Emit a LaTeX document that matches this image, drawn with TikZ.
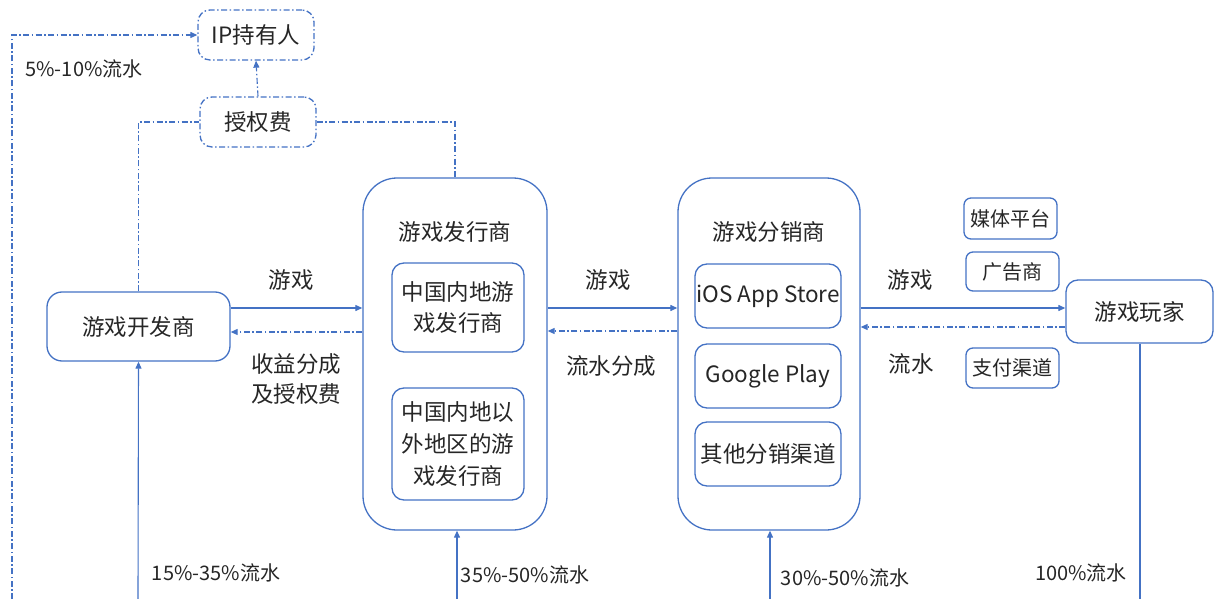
\documentclass[tikz,border=0pt]{standalone}
\usepackage{fontspec}
\setmainfont{Noto Sans CJK SC}
\usetikzlibrary{arrows.meta}
\definecolor{lc}{HTML}{4472C4}
\definecolor{tc}{HTML}{262626}
\begin{document}
\begin{tikzpicture}[x=1pt,y=-1pt,
  every node/.style={text=tc,font=\fontsize{22.5}{30.5}\selectfont},
  box/.style={draw=lc,line width=1.3pt,rounded corners=12pt,inner sep=0pt},
  dbox/.style={box,dash pattern=on 6pt off 2.5pt on 1.5pt off 2.5pt},
  bigbox/.style={draw=lc,line width=1.3pt,rounded corners=34pt,inner sep=0pt},
  sol/.style={draw=lc,line width=1.1pt,-{Triangle[length=7pt,width=6pt]}},
  dd/.style={draw=lc,line width=1.1pt,dash pattern=on 6pt off 2.5pt on 1.5pt off 2.5pt},
  lab/.style={align=center,inner sep=0pt},
  small/.style={font=\fontsize{20}{24}\selectfont}
]
\useasboundingbox (0,0) rectangle (1216,599);
% nodes
\node[dbox,minimum width=116pt,minimum height=50pt] (ip) at (256,35) {IP持有人};
\node[dbox,minimum width=116pt,minimum height=50pt] (fee) at (258,122) {授权费};
\node[box,rounded corners=15pt,minimum width=183pt,minimum height=69pt] (dev) at (138.5,326.5) {游戏开发商};
\node[bigbox,minimum width=184pt,minimum height=352pt] (pub) at (455,354) {};
\node[lab] (pubt) at (455,232) {游戏发行商};
\node[box,minimum width=132pt,minimum height=89pt,align=center] (pub1) at (458,307.5) {中国内地游\\戏发行商};
\node[box,minimum width=132pt,minimum height=112pt,align=center,font=\fontsize{22.5}{32}\selectfont] (pub2) at (458,444) {中国内地以\\外地区的游\\戏发行商};
\node[bigbox,minimum width=182pt,minimum height=352pt] (dis) at (769,354) {};
\node[lab] (dist) at (769,232) {游戏分销商};
\node[box,minimum width=146pt,minimum height=64pt] (ios) at (768,296) {iOS App Store};
\node[box,minimum width=146pt,minimum height=64pt] (gp) at (768,376) {Google Play};
\node[box,minimum width=146pt,minimum height=64pt] (oth) at (768,454) {其他分销渠道};
\node[box,rounded corners=7pt,minimum width=93pt,minimum height=41pt,small] (media) at (1010.5,218.5) {媒体平台};
\node[box,rounded corners=7pt,minimum width=93pt,minimum height=39pt,small] (ad) at (1012.5,271.5) {广告商};
\node[box,rounded corners=7pt,minimum width=93pt,minimum height=40pt,small] (pay) at (1012.5,368) {支付渠道};
\node[box,rounded corners=12pt,minimum width=147pt,minimum height=63pt] (player) at (1139.5,311.5) {游戏玩家};
% coordinates
\coordinate (bl) at (12,599);
\coordinate (b1) at (138,599);
\coordinate (b2) at (457,599);
\coordinate (b3) at (770,599);
\coordinate (b4) at (1140,599);
% connectors
\draw[dd,-{Triangle[length=7pt,width=6pt]}] (bl) |- (ip.west);
\draw[dd] (dev.north) |- (fee.west);
\draw[dd] (fee.east) -| (pub.north);
\draw[dd,-{Triangle[length=7pt,width=6pt]}] (fee.north) -- (ip.south);
\draw[sol] (dev.east |- 0,308) -- (pub.west |- 0,308);
\draw[dd,-{Triangle[length=7pt,width=6pt]}] (pub.west |- 0,332) -- (dev.east |- 0,332);
\draw[sol] (pub.east |- 0,308) -- (dis.west |- 0,308);
\draw[dd,-{Triangle[length=7pt,width=6pt]}] (dis.west |- 0,331) -- (pub.east |- 0,331);
\draw[sol] (dis.east |- 0,308) -- (player.west |- 0,308);
\draw[dd,-{Triangle[length=7pt,width=6pt]}] (player.west |- 0,327) -- (dis.east |- 0,327);
\draw[sol] (b1) -- (dev.south);
\draw[sol] (b2) -- (pub.south -| b2);
\draw[sol] (b3) -- (dis.south -| b3);
\draw[draw=lc,line width=1.1pt] (player.south -| b4) -- (b4);
% labels
\node[lab] at (291,280) {游戏};
\node[lab] at (296,379) {收益分成\\及授权费};
\node[lab] at (608,280) {游戏};
\node[lab] at (611,366) {流水分成};
\node[lab] at (910,280) {游戏};
\node[lab] at (911,364) {流水};
\node[lab,small] at (84,69) {5\%-10\%流水};
\node[lab,small] at (216,573) {15\%-35\%流水};
\node[lab,small] at (525,575) {35\%-50\%流水};
\node[lab,small] at (845,578) {30\%-50\%流水};
\node[lab,small] at (1081,573) {100\%流水};
\end{tikzpicture}
\end{document}
